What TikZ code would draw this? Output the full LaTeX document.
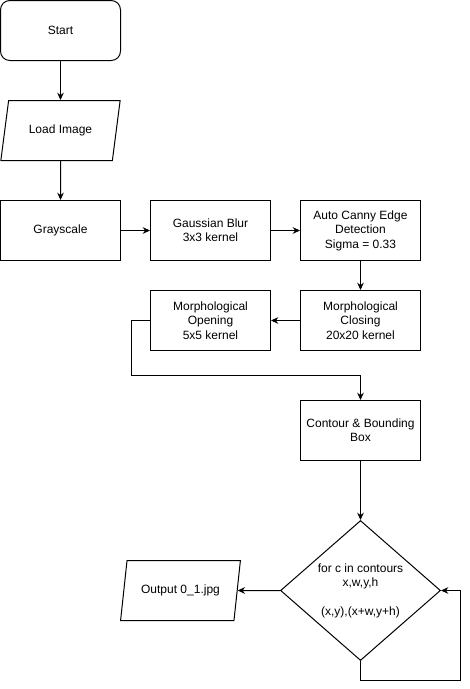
\documentclass[tikz,border=0pt]{standalone}
\usepackage{fontspec}
\setmainfont{Liberation Sans}
\usetikzlibrary{shapes.geometric,arrows.meta}
\begin{document}
\begin{tikzpicture}[x=0.75pt,y=-0.75pt,
  every node/.style={font=\fontsize{9pt}{10.8pt}\selectfont, align=center},
  box/.style={draw, line width=0.75pt, minimum width=90pt, minimum height=45pt, inner sep=0pt},
  startbox/.style={box, rounded corners=7pt},
  io/.style={draw, line width=0.75pt, trapezium, trapezium left angle=67, trapezium right angle=113,
    trapezium stretches=true, minimum width=90pt, minimum height=45pt, inner sep=0pt},
  decbox/.style={draw, diamond, line width=0.75pt, aspect=1.143, minimum width=120pt, minimum height=105pt, inner sep=0pt},
  arr/.style={-{Stealth[length=5.5pt,width=5pt]}, line width=0.75pt}]
\useasboundingbox (0,0) rectangle (469,689);
\node[startbox] (start) at (60.5,30.5) {Start};
\node[io] (load) at (60.5,130.5) {Load Image};
\node[box] (gray) at (60.5,230.5) {Grayscale};
\node[box] (blur) at (210.5,230.5) {Gaussian Blur\\3x3 kernel};
\node[box] (canny) at (360.5,230.5) {Auto Canny Edge\\Detection\\Sigma = 0.33};
\node[box] (close) at (360.5,320.5) {Morphological\\Closing\\20x20 kernel};
\node[box] (open) at (210.5,320.5) {Morphological\\Opening\\5x5 kernel};
\node[box] (contour) at (360.5,430.5) {Contour \& Bounding\\Box};
\node[decbox] (dec) at (360.5,590.5) {for c in contours\\x,w,y,h\\[10.8pt](x,y),(x+w,y+h)};
\node[io] (out) at (180.5,590.5) {Output 0\_1.jpg};
\coordinate (b1) at (131,375.5);
\coordinate (b2) at (460,680);
\draw[arr] (start) -- (load);
\draw[arr] (load) -- (gray);
\draw[arr] (gray) -- (blur);
\draw[arr] (blur) -- (canny);
\draw[arr] (canny) -- (close);
\draw[arr] (close) -- (open);
\draw[arr] (open.west) -| (b1) -| (contour.north);
\draw[arr] (contour) -- (dec);
\draw[arr] (dec.west) -- (out.east);
\draw[arr] (dec.south) |- (b2) |- (dec.east);
\end{tikzpicture}
\end{document}
